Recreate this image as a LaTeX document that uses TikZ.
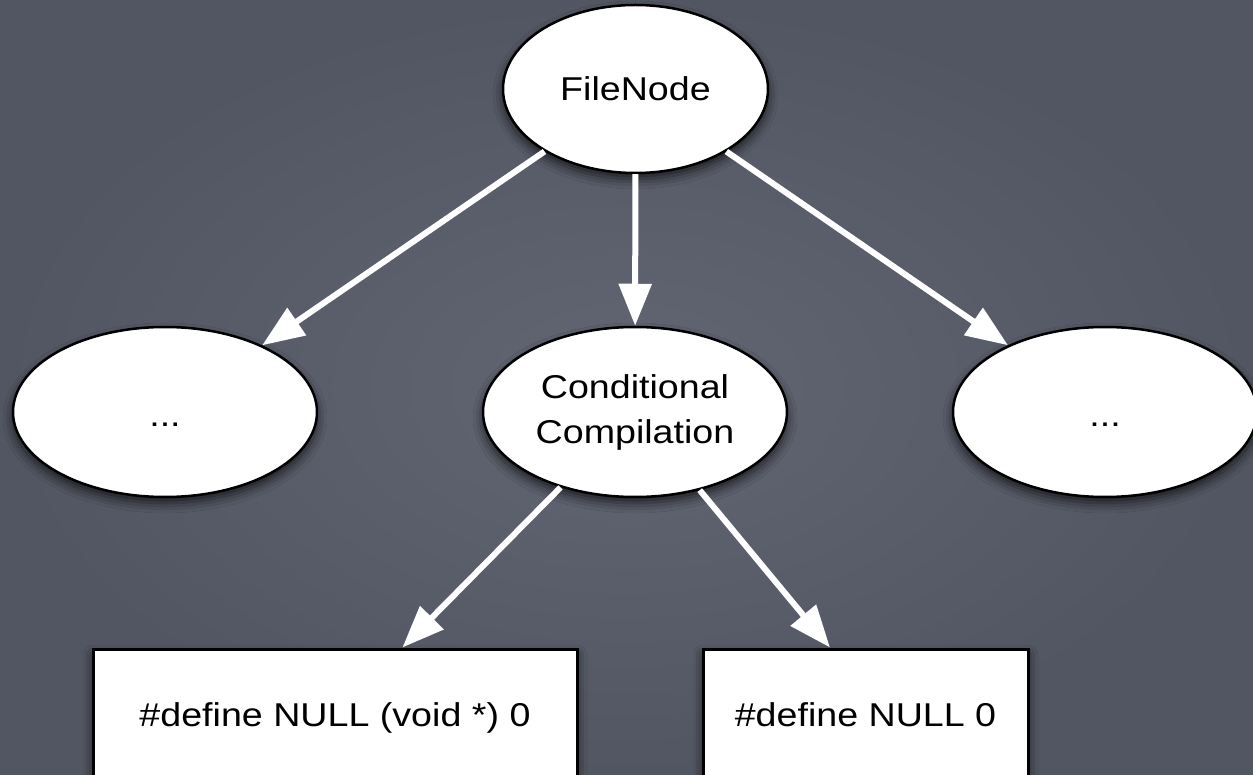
\documentclass[tikz,border=0pt]{standalone}
\usepackage{fontspec}
\setmainfont{Liberation Sans}
\usetikzlibrary{shapes.geometric,arrows.meta,shadows.blur}
\definecolor{slate}{RGB}{82,86,98}
\definecolor{slatelight}{RGB}{98,102,115}
% slightly widened lettering
\newcommand{\hw}[1]{\scalebox{1.14}[1]{#1}}
\begin{document}
\begin{tikzpicture}[x=1pt,y=-1pt,
  every node/.style={font=\fontsize{33}{45}\selectfont, text=black},
  oval/.style={ellipse, draw=black, line width=2.5pt, fill=white, inner sep=0pt,
    minimum width=304pt, minimum height=170pt,
    blur shadow={shadow xshift=0pt, shadow yshift=-6pt, shadow blur radius=10pt, shadow opacity=70}},
  topoval/.style={oval, minimum width=265pt, minimum height=168pt},
  dots/.style={oval, text height=28pt, text depth=0pt},
  codebox/.style={rectangle, draw=black, line width=3pt, fill=white, inner sep=0pt,
    minimum height=134pt, text height=26pt, text depth=6pt,
    blur shadow={shadow xshift=0pt, shadow yshift=-6pt, shadow blur radius=10pt, shadow opacity=70}},
  link/.style={draw=white, line width=6pt, -{Triangle[length=42pt,width=32pt]}}
]
\useasboundingbox (0,0) rectangle (1253,775);
\clip (0,0) rectangle (1253,775);
% chalkboard background
\fill[slate] (0,0) rectangle (1253,775);
\shade[inner color=slatelight, outer color=slate] (0,0) rectangle (1253,775);

% tree nodes
\node[topoval] (file) at (635.5,89) {\hw{FileNode}};
\node[dots] (left)  at (165,412)  {\hw{...}};
\node[oval] (cond)  at (635,412)  {\hw{\begin{tabular}{@{}c@{}}Conditional\\Compilation\end{tabular}}};
\node[dots] (right) at (1105,412) {\hw{...}};
\node[codebox, minimum width=484pt] (voidnull) at (335,716)   {\hw{\#define NULL (void *) 0}};
\node[codebox, minimum width=325pt] (zeronull) at (865.5,716) {\hw{\#define NULL 0}};

% edges
\draw[link] (file) -- (left);
\draw[link] (file) -- (cond);
\draw[link] (file) -- (right);
\draw[link] (cond) -- (voidnull);
\draw[link] (cond) -- ([xshift=-35.5pt]zeronull.north);
\end{tikzpicture}
\end{document}
